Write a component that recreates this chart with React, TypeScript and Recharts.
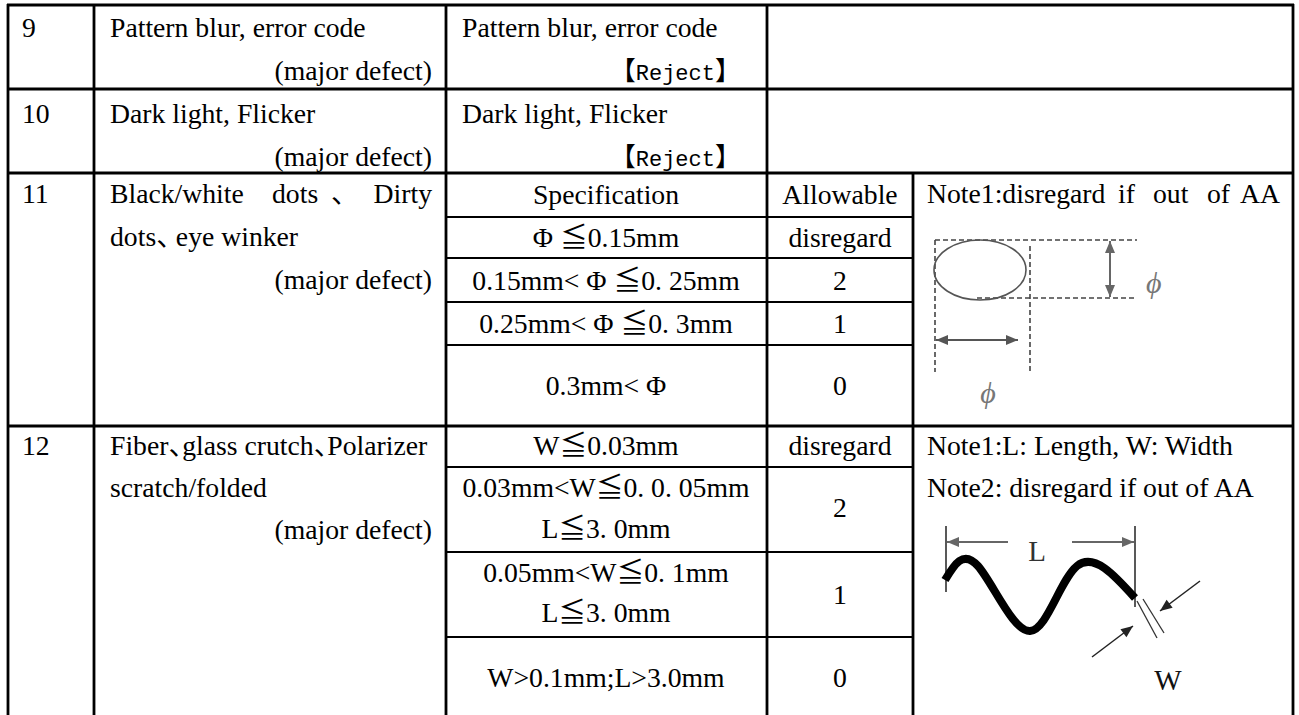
import React from 'react';
import { ComposedChart, XAxis, YAxis, ReferenceLine, Scatter, Line } from 'recharts';

const WIDTH = 1299;
const HEIGHT = 715;

// ---- table content ----
const rowNumbers = ['9', '10', '11', '12'];
const itemNames = ['Pattern blur, error code', 'Dark light, Flicker'];
const severity = '(major defect)';
const verdict = '【Reject】';
const specHeader = ['Specification', 'Allowable'];
const dotSpecs = ['Φ ≦0.15mm', '0.15mm< Φ ≦0. 25mm', '0.25mm< Φ ≦0. 3mm', '0.3mm< Φ'];
const dotAllow = ['disregard', '2', '1', '0'];
const lineSpecsA = ['W≦0.03mm', '0.03mm<W≦0. 0. 05mm', '0.05mm<W≦0. 1mm', 'W>0.1mm;L>3.0mm'];
const lineSpecsB = ['', 'L≦3. 0mm', 'L≦3. 0mm', ''];
const lineAllow = ['disregard', '2', '1', '0'];
const notes = ['Note1:disregard if out of AA', 'Note1:L: Length, W: Width', 'Note2: disregard if out of AA'];

// ---- table layout (pixel grid of the page) ----
const colEdges = [8, 94, 446, 767, 913, 1293];
const rowEdges = [5, 89, 173, 217, 258, 302, 345, 426, 467, 552, 637];
const BOTTOM = 715;
// [row index, from col, to col, main?]
const hRules: [number, number, number, boolean][] = [
  [0, 0, 5, true], [1, 0, 5, true], [2, 0, 5, true],
  [3, 2, 4, false], [4, 2, 4, false], [5, 2, 4, false], [6, 2, 4, false],
  [7, 0, 5, true], [8, 2, 4, false], [9, 2, 4, false], [10, 2, 4, false],
];
// [col index, from y, to y]
const vRules: [number, number, number][] = [
  [0, 5, BOTTOM], [1, 5, BOTTOM], [2, 5, BOTTOM], [3, 5, BOTTOM], [4, 173, BOTTOM], [5, 5, BOTTOM],
];

type Cell = { x: number; y: number; a: 'start' | 'middle' | 'end'; t: string; mono?: boolean; gap?: number };

const C1 = 22, C2L = 110, C2R = 432, C3L = 462, C3R = 741, C3M = 606, C4M = 840, C5L = 927;

const cells: Cell[] = [
  { x: C1, y: 37, a: 'start', t: rowNumbers[0] },
  { x: C2L, y: 37, a: 'start', t: itemNames[0] },
  { x: C2R, y: 80, a: 'end', t: severity },
  { x: C3L, y: 37, a: 'start', t: itemNames[0] },
  { x: C3R, y: 80, a: 'end', t: verdict, mono: true },
  { x: C1, y: 123, a: 'start', t: rowNumbers[1] },
  { x: C2L, y: 123, a: 'start', t: itemNames[1] },
  { x: C2R, y: 166, a: 'end', t: severity },
  { x: C3L, y: 123, a: 'start', t: itemNames[1] },
  { x: C3R, y: 166, a: 'end', t: verdict, mono: true },
  { x: C1, y: 203, a: 'start', t: rowNumbers[2] },
  { x: C2L, y: 203, a: 'start', t: 'Black/white' },
  { x: 272, y: 203, a: 'start', t: 'dots' },
  { x: 331, y: 203, a: 'start', t: '、' },
  { x: C2R, y: 203, a: 'end', t: 'Dirty' },
  { x: C2L, y: 246, a: 'start', t: 'dots、eye winker', gap: -8 },
  { x: C2R, y: 289, a: 'end', t: severity },
  { x: C3M, y: 204, a: 'middle', t: specHeader[0] },
  { x: C4M, y: 204, a: 'middle', t: specHeader[1] },
  { x: C5L, y: 203, a: 'start', t: 'Note1:disregard' },
  { x: 1118, y: 203, a: 'start', t: 'if' },
  { x: 1153, y: 203, a: 'start', t: 'out' },
  { x: 1207, y: 203, a: 'start', t: 'of' },
  { x: 1280, y: 203, a: 'end', t: 'AA' },
  { x: C3M, y: 247, a: 'middle', t: dotSpecs[0] },
  { x: C4M, y: 247, a: 'middle', t: dotAllow[0] },
  { x: C3M, y: 290, a: 'middle', t: dotSpecs[1] },
  { x: C4M, y: 290, a: 'middle', t: dotAllow[1] },
  { x: C3M, y: 333, a: 'middle', t: dotSpecs[2] },
  { x: C4M, y: 333, a: 'middle', t: dotAllow[2] },
  { x: C3M, y: 395, a: 'middle', t: dotSpecs[3] },
  { x: C4M, y: 395, a: 'middle', t: dotAllow[3] },
  { x: C1, y: 455, a: 'start', t: rowNumbers[3] },
  { x: C2L, y: 455, a: 'start', t: 'Fiber、glass crutch、Polarizer', gap: -14 },
  { x: C2L, y: 497, a: 'start', t: 'scratch/folded' },
  { x: C2R, y: 539, a: 'end', t: severity },
  { x: C3M, y: 455, a: 'middle', t: lineSpecsA[0] },
  { x: C4M, y: 455, a: 'middle', t: lineAllow[0] },
  { x: C3M, y: 497, a: 'middle', t: lineSpecsA[1] },
  { x: C3M, y: 538, a: 'middle', t: lineSpecsB[1] },
  { x: C4M, y: 517, a: 'middle', t: lineAllow[1] },
  { x: C3M, y: 582, a: 'middle', t: lineSpecsA[2] },
  { x: C3M, y: 622, a: 'middle', t: lineSpecsB[2] },
  { x: C4M, y: 604, a: 'middle', t: lineAllow[2] },
  { x: C3M, y: 687, a: 'middle', t: lineSpecsA[3] },
  { x: C4M, y: 687, a: 'middle', t: lineAllow[3] },
  { x: C5L, y: 455, a: 'start', t: notes[1] },
  { x: C5L, y: 497, a: 'start', t: notes[2] },
];

// ---- illustrations ----
const dashed: [number, number, number, number][] = [
  [935, 240, 1137, 240],
  [977, 298, 1137, 298],
  [935, 240, 935, 372],
  [1030, 246, 1030, 374],
];
type Arrow = { x1: number; y1: number; x2: number; y2: number; start: boolean; end: boolean; color: string; w: number };
const arrows: Arrow[] = [
  { x1: 1110, y1: 241, x2: 1110, y2: 297, start: true, end: true, color: '#666', w: 2 },
  { x1: 936, y1: 340, x2: 1018, y2: 340, start: true, end: true, color: '#555', w: 2 },
  { x1: 947, y1: 542, x2: 1008, y2: 542, start: true, end: false, color: '#666', w: 2.2 },
  { x1: 1072, y1: 542, x2: 1134, y2: 542, start: false, end: true, color: '#666', w: 2.2 },
  { x1: 1200, y1: 581, x2: 1160, y2: 611, start: false, end: true, color: '#222', w: 1.5 },
  { x1: 1092, y1: 657, x2: 1133, y2: 626, start: false, end: true, color: '#222', w: 1.5 },
];
const plainLines: [number, number, number, number, string, number][] = [
  [946, 526, 946, 592, '#222', 1.5],
  [1135, 526, 1135, 607, '#222', 1.5],
  [1137, 601, 1157, 638, '#333', 1.3],
  [1143, 599, 1164, 633, '#333', 1.3],
];
const wave = [
  { x: 945, y: 580 },
  { x: 978, y: 566 },
  { x: 1030, y: 631 },
  { x: 1077, y: 566 },
  { x: 1135, y: 598 },
];
const ellipseMark = [{ x: 980, y: 270 }];
const diagramLabels = [
  { x: 1146, y: 293, a: 'start', t: 'ϕ', italic: true, color: '#777', size: 30 },
  { x: 988, y: 403, a: 'middle', t: 'ϕ', italic: true, color: '#777', size: 30 },
  { x: 1037, y: 561, a: 'middle', t: 'L', italic: false, color: '#333', size: 29 },
  { x: 1168, y: 690, a: 'middle', t: 'W', italic: false, color: '#111', size: 29 },
];

const heads = arrows.flatMap((ar) => {
  const out: { x: number; y: number; ang: number; color: string }[] = [];
  const ang = Math.atan2(ar.y2 - ar.y1, ar.x2 - ar.x1);
  if (ar.end) out.push({ x: ar.x2, y: ar.y2, ang, color: ar.color });
  if (ar.start) out.push({ x: ar.x1, y: ar.y1, ang: ang + Math.PI, color: ar.color });
  return out;
});

const SERIF = "'Liberation Serif', 'Times New Roman', 'Noto Sans CJK SC', serif";
const MONO = "'Liberation Mono', 'Noto Sans CJK SC', monospace";
const FS = 27.7;

// CJK comma drawn narrower (reduced advance), brackets slightly bigger
const renderParts = (t: string, mono: boolean, gap: number) => {
  const parts: React.ReactNode[] = [];
  let buf = '';
  let k = 0;
  const flush = () => {
    if (buf) {
      parts.push(<tspan key={k++}>{buf}</tspan>);
      buf = '';
    }
  };
  for (const ch of t) {
    if (ch === '、' && !mono && gap) {
      flush();
      parts.push(
        <tspan key={k++} letterSpacing={gap}>
          {ch}
        </tspan>
      );
    } else if ((ch === '【' || ch === '】') && mono) {
      flush();
      parts.push(
        <tspan key={k++} fontSize={26}>
          {ch}
        </tspan>
      );
    } else {
      buf += ch;
    }
  }
  flush();
  return parts;
};

const TextShape = (p: any) => {
  const d: Cell = p.payload;
  if (p.cx == null) return <g />;
  return (
    <text
      x={p.cx}
      y={p.cy}
      textAnchor={d.a}
      fontFamily={d.mono ? MONO : SERIF}
      fontSize={d.mono ? 22 : FS}
      fill="#000"
    >
      {renderParts(d.t, !!d.mono, d.gap || 0)}
    </text>
  );
};

const LabelShape = (p: any) => {
  const d = p.payload;
  return (
    <text x={p.cx} y={p.cy} textAnchor={d.a} fontFamily={SERIF} fontStyle={d.italic ? 'italic' : 'normal'} fontSize={d.size} fill={d.color}>
      {d.t}
    </text>
  );
};

const HeadShape = (p: any) => {
  const d = p.payload;
  const deg = (d.ang * 180) / Math.PI;
  return (
    <polygon
      points="0,0 -12,-5 -12,5"
      fill={d.color}
      transform={`translate(${p.cx},${p.cy}) rotate(${deg})`}
    />
  );
};

const EllipseShape = (p: any) => (
  <ellipse cx={p.cx} cy={p.cy} rx={46} ry={30} fill="none" stroke="#555" strokeWidth={1.6} />
);

export default function App() {
  return (
    <div style={{ position: 'absolute', left: 0, top: 0, width: WIDTH, height: HEIGHT, background: '#fff' }}>
      <ComposedChart width={WIDTH} height={HEIGHT} margin={{ top: 0, right: 0, bottom: 0, left: 0 }}>
        <XAxis type="number" dataKey="x" domain={[0, WIDTH]} hide allowDataOverflow />
        <YAxis type="number" dataKey="y" domain={[0, HEIGHT]} reversed hide allowDataOverflow />
        {hRules.map(([r, c1, c2, main], i) => (
          <ReferenceLine
            key={`h${i}`}
            segment={[{ x: colEdges[c1] - 1, y: rowEdges[r] }, { x: colEdges[c2] + 1, y: rowEdges[r] }]}
            stroke="#000"
            strokeWidth={main ? 2.8 : 2.2}
            ifOverflow="visible"
          />
        ))}
        {vRules.map(([c, y1, y2], i) => (
          <ReferenceLine
            key={`v${i}`}
            segment={[{ x: colEdges[c], y: y1 - 1 }, { x: colEdges[c], y: y2 }]}
            stroke="#000"
            strokeWidth={2.8}
            ifOverflow="visible"
          />
        ))}
        {dashed.map(([x1, y1, x2, y2], i) => (
          <ReferenceLine
            key={`d${i}`}
            segment={[{ x: x1, y: y1 }, { x: x2, y: y2 }]}
            stroke="#444"
            strokeWidth={1.6}
            strokeDasharray="5 3"
            ifOverflow="visible"
          />
        ))}
        {arrows.map((ar, i) => (
          <ReferenceLine
            key={`a${i}`}
            segment={[{ x: ar.x1, y: ar.y1 }, { x: ar.x2, y: ar.y2 }]}
            stroke={ar.color}
            strokeWidth={ar.w}
            ifOverflow="visible"
          />
        ))}
        {plainLines.map(([x1, y1, x2, y2, c, w], i) => (
          <ReferenceLine
            key={`p${i}`}
            segment={[{ x: x1, y: y1 }, { x: x2, y: y2 }]}
            stroke={c}
            strokeWidth={w}
            ifOverflow="visible"
          />
        ))}
        <Line
          data={wave}
          dataKey="y"
          type="natural"
          stroke="#000"
          strokeWidth={8}
          dot={false}
          activeDot={false}
          isAnimationActive={false}
        />
        <Scatter data={ellipseMark} shape={EllipseShape} isAnimationActive={false} />
        <Scatter data={heads} shape={HeadShape} isAnimationActive={false} />
        <Scatter data={diagramLabels} shape={LabelShape} isAnimationActive={false} />
        <Scatter data={cells} shape={TextShape} isAnimationActive={false} />
      </ComposedChart>
    </div>
  );
}
